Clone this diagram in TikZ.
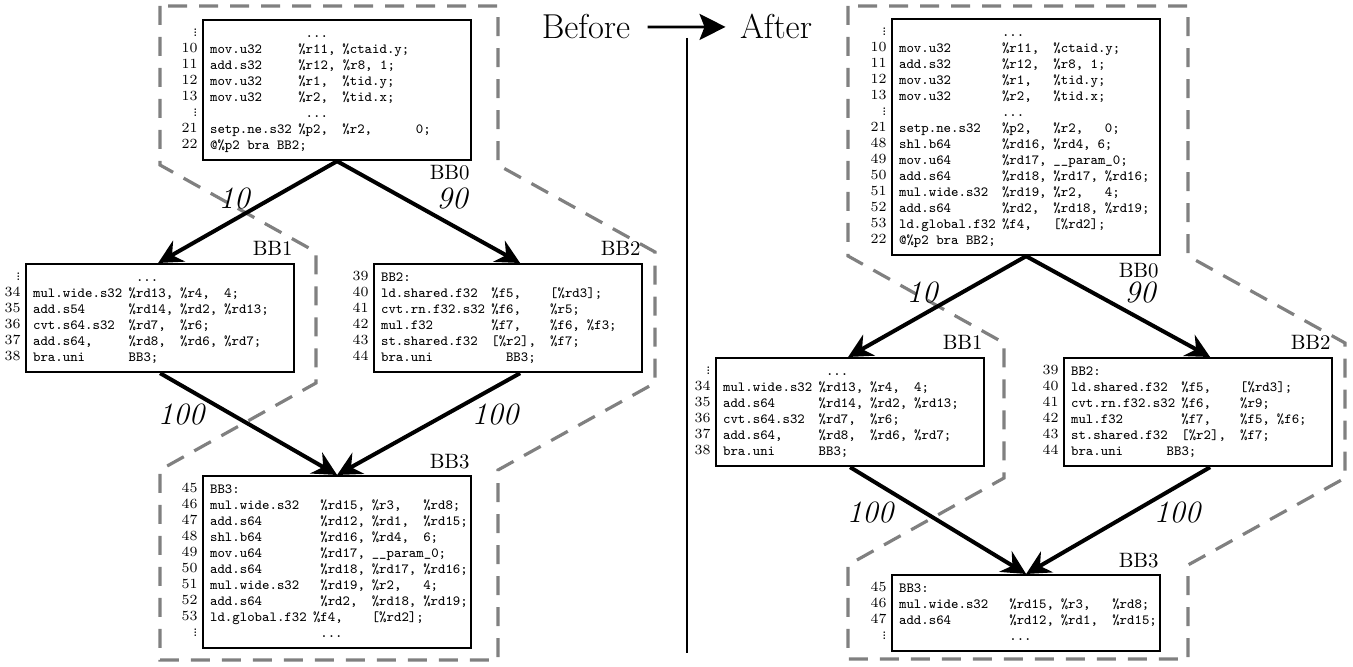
\documentclass[tikz,border=0pt]{standalone}
\usepackage{fontspec}
\usetikzlibrary{arrows.meta}
\newlength\cw
\setlength\cw{3.675pt}
\newcommand\fld[2]{\makebox[#1\cw][l]{#2}}
\newcommand\vd{\vbox{\baselineskip=1.6pt\lineskiplimit=-10pt\lineskip=0pt\hbox{.}\hbox{.}\hbox{.}}}
\newcommand\codesize{\fontsize{7}{8}\selectfont}
\newcommand\codeblock[1]{\makebox[127pt][l]{\begin{tabular}{@{}l@{}}#1\end{tabular}}}
\newcommand\numblock[1]{\begin{tabular}{@{}r@{}}#1\end{tabular}}
\tikzset{
  bbox/.style={draw, line width=1.1pt, anchor=north west, inner xsep=3.5pt, inner ysep=3pt, font=\codesize\ttfamily\frenchspacing},
  lnum/.style={anchor=north east, inner sep=0pt, font=\codesize\rmfamily},
  bblabel/.style={anchor=base east, inner sep=0pt, font=\fontsize{10.4}{12}\selectfont},
  freq/.style={font=\fontsize{15.5}{18}\selectfont\itshape, inner sep=0pt},
  flow/.style={line width=2pt, -{Stealth[length=12pt,width=12pt,inset=4pt]}},
  region/.style={draw=gray, line width=1.6pt, dash pattern=on 9.5pt off 6pt},
  title/.style={font=\LARGE, anchor=base},
}
\begin{document}
\begin{tikzpicture}[x=0.5pt,y=-0.5pt]
\useasboundingbox (0,0) rectangle (1353,667);

% ---------- highlighted regions ----------
\draw[region] (160,6) -- (160,165) -- (316,252) -- (316,383) -- (160,470) -- (160,660)
  -- (498,660) -- (498,470) -- (655,383) -- (655,252) -- (498,165) -- (498,6) -- cycle;
\draw[region] (848,6) -- (848,256) -- (1004,343) -- (1004,478) -- (848,565) -- (848,659)
  -- (1188,659) -- (1188,565) -- (1345,478) -- (1345,343) -- (1188,256) -- (1188,6) -- cycle;

% ---------- Before ----------
\node[bbox] (b0L) at (202,19) {\codeblock{%
\fld{13}{}...\\
\fld{12}{mov.u32}\fld{6}{\%r11,}\%ctaid.y;\\
\fld{12}{add.s32}\%r12,~\%r8,~1;\\
\fld{12}{mov.u32}\fld{6}{\%r1,}\%tid.y;\\
\fld{12}{mov.u32}\fld{6}{\%r2,}\%tid.x;\\
\fld{13}{}...\\
\fld{12}{setp.ne.s32}\fld{6}{\%p2,}\fld{10}{\%r2,}0;\\
@\%p2~bra~BB2;}};
\node[lnum] (n0L) at ([xshift=-2pt,yshift=-3pt]b0L.north west) {\numblock{\vd\\10\\11\\12\\13\\\vd\\21\\22}};

\node[bbox] (b1L) at (25,263) {\codeblock{%
\fld{14}{}...\\
\fld{13}{mul.wide.s32}\fld{7}{\%rd13,}\fld{6}{\%r4,}4;\\
\fld{13}{add.s54}\fld{7}{\%rd14,}\fld{6}{\%rd2,}\%rd13;\\
\fld{13}{cvt.s64.s32}\fld{7}{\%rd7,}\%r6;\\
\fld{13}{add.s64,}\fld{7}{\%rd8,}\fld{6}{\%rd6,}\%rd7;\\
\fld{13}{bra.uni}BB3;}};
\node[lnum] (n1L) at ([xshift=-2pt,yshift=-3pt]b1L.north west) {\numblock{\vd\\34\\35\\36\\37\\38}};

\node[bbox] (b2L) at (373,263) {\codeblock{%
BB2:\\
\fld{15}{ld.shared.f32}\fld{8}{\%f5,}[\%rd3];\\
\fld{15}{cvt.rn.f32.s32}\fld{8}{\%f6,}\%r5;\\
\fld{15}{mul.f32}\fld{8}{\%f7,}\fld{5}{\%f6,}\%f3;\\
\fld{15}{st.shared.f32}\fld{8}{[\%r2],}\%f7;\\
\fld{17}{bra.uni}BB3;}};
\node[lnum] (n2L) at ([xshift=-2pt,yshift=-3pt]b2L.north west) {\numblock{39\\40\\41\\42\\43\\44}};

\node[bbox] (b3L) at (202,475) {\codeblock{%
BB3:\\
\fld{15}{mul.wide.s32}\fld{7}{\%rd15,}\fld{7}{\%r3,}\%rd8;\\
\fld{15}{add.s64}\fld{7}{\%rd12,}\fld{7}{\%rd1,}\%rd15;\\
\fld{15}{shl.b64}\fld{7}{\%rd16,}\fld{7}{\%rd4,}6;\\
\fld{15}{mov.u64}\fld{7}{\%rd17,}\_\_param\_0;\\
\fld{15}{add.s64}\fld{7}{\%rd18,}\fld{7}{\%rd17,}\%rd16;\\
\fld{15}{mul.wide.s32}\fld{7}{\%rd19,}\fld{7}{\%r2,}4;\\
\fld{15}{add.s64}\fld{7}{\%rd2,}\fld{7}{\%rd18,}\%rd19;\\
\fld{14}{ld.global.f32}\fld{8}{\%f4,}[\%rd2];\\
\fld{15}{}...}};
\node[lnum] (n3L) at ([xshift=-2pt,yshift=-3pt]b3L.north west) {\numblock{45\\46\\47\\48\\49\\50\\51\\52\\53\\\vd}};

\node[bblabel] (l0L) at (470,180) {BB0};
\node[bblabel] (l1L) at (293,256) {BB1};
\node[bblabel] (l2L) at (641,256) {BB2};
\node[bblabel] (l3L) at (470,468) {BB3};

\draw[flow] (b0L.south) -- ([xshift=-1pt]b1L.north);
\draw[flow] (b0L.south) -- ([xshift=6pt]b2L.north);
\draw[flow] (b1L.south) -- (b3L.north);
\draw[flow] ([xshift=6pt]b2L.south) -- (b3L.north);

\node[freq] (f1L) at (234,199) {10};
\node[freq] (f2L) at (452,199) {90};
\node[freq] (f3L) at (181,415) {100};
\node[freq] (f4L) at (495,415) {100};

% ---------- Before -> After ----------
\node[title] (before) at (586,39) {Before};
\node[title] (after) at (776,39) {After};
\draw[line width=1.4pt, -{Stealth[length=13pt,width=13pt,inset=2.5pt]}, shorten <=5.2pt, shorten >=3.7pt] (before.east) -- (after.west);
\coordinate (vt) at (687,38);
\coordinate (vb) at (687,653);
\draw[line width=1.3pt] (vt) -- (vb);

% ---------- After ----------
\node[bbox] (b0R) at (891,18) {\codeblock{%
\fld{14}{}...\\
\fld{14}{mov.u32}\fld{7}{\%r11,}\%ctaid.y;\\
\fld{14}{add.s32}\fld{7}{\%r12,}\%r8,~1;\\
\fld{14}{mov.u32}\fld{7}{\%r1,}\%tid.y;\\
\fld{14}{mov.u32}\fld{7}{\%r2,}\%tid.x;\\
\fld{14}{}...\\
\fld{14}{setp.ne.s32}\fld{7}{\%p2,}\fld{7}{\%r2,}0;\\
\fld{14}{shl.b64}\fld{7}{\%rd16,}\fld{6}{\%rd4,}6;\\
\fld{14}{mov.u64}\fld{7}{\%rd17,}\_\_param\_0;\\
\fld{14}{add.s64}\fld{7}{\%rd18,}\fld{7}{\%rd17,}\%rd16;\\
\fld{14}{mul.wide.s32}\fld{7}{\%rd19,}\fld{7}{\%r2,}4;\\
\fld{14}{add.s64}\fld{7}{\%rd2,}\fld{7}{\%rd18,}\%rd19;\\
\fld{14}{ld.global.f32}\fld{7}{\%f4,}[\%rd2];\\
@\%p2~bra~BB2;}};
\node[lnum] (n0R) at ([xshift=-2pt,yshift=-3pt]b0R.north west) {\numblock{\vd\\10\\11\\12\\13\\\vd\\21\\48\\49\\50\\51\\52\\53\\22}};

\node[bbox] (b1R) at (715,357) {\codeblock{%
\fld{14}{}...\\
\fld{13}{mul.wide.s32}\fld{7}{\%rd13,}\fld{6}{\%r4,}4;\\
\fld{13}{add.s64}\fld{7}{\%rd14,}\fld{6}{\%rd2,}\%rd13;\\
\fld{13}{cvt.s64.s32}\fld{7}{\%rd7,}\%r6;\\
\fld{13}{add.s64,}\fld{7}{\%rd8,}\fld{6}{\%rd6,}\%rd7;\\
\fld{13}{bra.uni}BB3;}};
\node[lnum] (n1R) at ([xshift=-2pt,yshift=-3pt]b1R.north west) {\numblock{\vd\\34\\35\\36\\37\\38}};

\node[bbox] (b2R) at (1063,357) {\codeblock{%
BB2:\\
\fld{15}{ld.shared.f32}\fld{8}{\%f5,}[\%rd3];\\
\fld{15}{cvt.rn.f32.s32}\fld{8}{\%f6,}\%r9;\\
\fld{15}{mul.f32}\fld{8}{\%f7,}\fld{5}{\%f5,}\%f6;\\
\fld{15}{st.shared.f32}\fld{8}{[\%r2],}\%f7;\\
\fld{13}{bra.uni}BB3;}};
\node[lnum] (n2R) at ([xshift=-2pt,yshift=-3pt]b2R.north west) {\numblock{39\\40\\41\\42\\43\\44}};

\node[bbox] (b3R) at (891,574) {\codeblock{%
BB3:\\
\fld{15}{mul.wide.s32}\fld{7}{\%rd15,}\fld{7}{\%r3,}\%rd8;\\
\fld{15}{add.s64}\fld{7}{\%rd12,}\fld{7}{\%rd1,}\%rd15;\\
\fld{15}{}...}};
\node[lnum] (n3R) at ([xshift=-2pt,yshift=-3pt]b3R.north west) {\numblock{45\\46\\47\\\vd}};

\node[bblabel] (l0R) at (1159,278) {BB0};
\node[bblabel] (l1R) at (983,350) {BB1};
\node[bblabel] (l2R) at (1331,350) {BB2};
\node[bblabel] (l3R) at (1159,567) {BB3};

\draw[flow] (b0R.south) -- ([xshift=-1pt]b1R.north);
\draw[flow] (b0R.south) -- ([xshift=6pt]b2R.north);
\draw[flow] (b1R.south) -- (b3R.north);
\draw[flow] ([xshift=6pt]b2R.south) -- (b3R.north);

\node[freq] (f1R) at (922,293) {10};
\node[freq] (f2R) at (1140,293) {90};
\node[freq] (f3R) at (870,513) {100};
\node[freq] (f4R) at (1177,513) {100};
\end{tikzpicture}
\end{document}
